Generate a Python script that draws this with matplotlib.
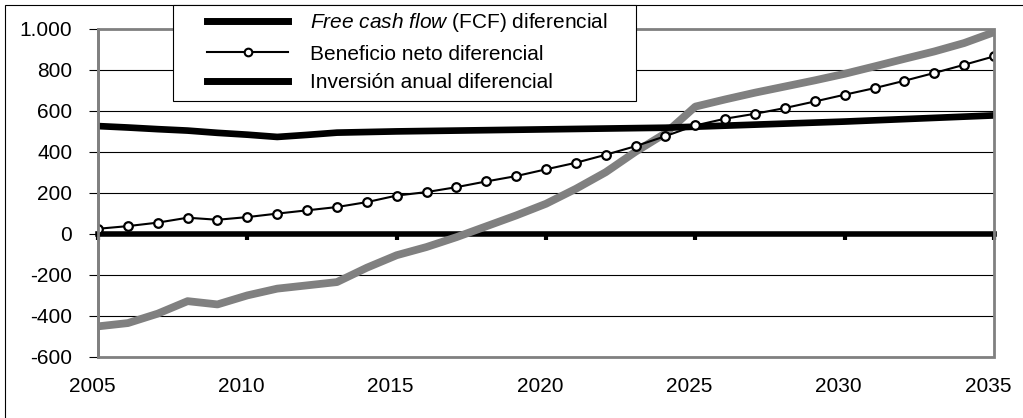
import matplotlib
matplotlib.use("Agg")
import matplotlib.pyplot as plt
import matplotlib.transforms as mtransforms
from matplotlib.lines import Line2D
from matplotlib.patches import Rectangle

# ---- data ----
years = list(range(2005, 2036))
fcf = [-452, -436, -390, -329, -345, -301, -268, -252, -236, -166, -105,
       -65, -17, 36, 89, 146, 219, 300, 400, 490, 620,
       655, 688, 718, 748, 780, 816, 853, 889, 930, 983]
beneficio = [24, 37, 54, 78, 68, 81, 98, 114, 130, 154, 186,
             203, 227, 255, 281, 314, 346, 385, 427, 476, 528,
             561, 585, 613, 645, 678, 710, 746, 784, 824, 865]
inversion = [525, 518, 510, 503, 492, 483, 472, 482, 493, 496, 499,
             501, 503, 505, 507, 509, 511, 513, 515, 517, 522,
             527, 532, 537, 542, 547, 553, 559, 565, 571, 577]
xticks = [2005, 2010, 2015, 2020, 2025, 2030, 2035]
yticks = [-600, -400, -200, 0, 200, 400, 600, 800, 1000]
ytick_labels = ["-600", "-400", "-200", "0", "200", "400", "600", "800", "1.000"]
labels = ["Free cash flow (FCF) diferencial", "Beneficio neto diferencial",
          "Inversión anual diferencial"]

plt.rcParams['font.family'] = ['Liberation Sans', 'DejaVu Sans']
plt.rcParams['mathtext.fontset'] = 'custom'
plt.rcParams['mathtext.rm'] = 'Liberation Sans'
plt.rcParams['mathtext.it'] = 'Liberation Sans:italic'
FS = 15
W, H = 1023, 418
fig = plt.figure(figsize=(W / 100, H / 100), dpi=100)
ax = fig.add_axes([98 / W, (H - 356.7) / H, (994 - 98) / W, (356.7 - 28.7) / H])

gray = "#808080"
ax.plot(years, fcf, color=gray, lw=5.6, solid_capstyle="butt", zorder=3)
ax.plot(years, inversion, color="black", lw=4.8, solid_capstyle="butt", zorder=3)
ax.plot(years, beneficio, color="black", lw=1.5, marker="o", ms=6.2,
        mfc="white", mec="black", mew=1.6, zorder=4)

ax.set_xlim(2005, 2035)
ax.set_ylim(-600, 1000)
ax.set_yticks(yticks)
ax.set_yticklabels(ytick_labels)
ax.set_xticks(xticks)
ax.set_xticklabels([str(x) for x in xticks])

ax.yaxis.grid(True, color="black", lw=0.8)
ax.set_axisbelow(True)

for s in ["top", "right"]:
    ax.spines[s].set_visible(False)
ax.spines["left"].set_color(gray)
ax.spines["left"].set_linewidth(2)
ax.spines["bottom"].set_position(("data", 0))
ax.spines["bottom"].set_color("black")
ax.spines["bottom"].set_linewidth(4)
ax.spines["bottom"].set_zorder(2.5)

ax.tick_params(axis="y", direction="out", length=6.5, width=0.8, color="black",
               labelsize=FS, pad=12)
ax.tick_params(axis="x", direction="out", length=4, width=3, color="black",
               labelsize=FS, pad=99)

shift = mtransforms.ScaledTranslation(-6 / 100, 0, fig.dpi_scale_trans)
for lbl in ax.get_xticklabels():
    lbl.set_transform(lbl.get_transform() + shift)

border = Rectangle((0, 0), 1, 1, transform=ax.transAxes, fill=False,
                   edgecolor=gray, lw=2, zorder=5, clip_on=False)
ax.add_patch(border)

# figure frame
fig.add_artist(Rectangle((5 / W, -0.2), 1.2, (H - 5) / H + 0.2,
                         transform=fig.transFigure, fill=False,
                         edgecolor="black", lw=0.8, clip_on=False))

# legend box
fig.add_artist(Rectangle((173 / W, 1 - 101 / H), (636 - 173) / W, 96 / H,
                         transform=fig.transFigure, facecolor="white",
                         edgecolor="black", lw=0.8, zorder=9))

handles = [Line2D([], [], color="black", lw=5),
           Line2D([], [], color="black", lw=1.5, marker="o", ms=5.5, mfc="white",
                  mec="black", mew=1.5),
           Line2D([], [], color="black", lw=5)]
leg_labels = [r"$\it{Free\ cash\ flow}$ (FCF) diferencial", labels[1], labels[2]]
leg = fig.legend(handles, leg_labels, loc="center left",
                 bbox_to_anchor=(207 / W, 1 - 52 / H),
                 fontsize=FS, frameon=False, handlelength=81 / 20.8,
                 handletextpad=22 / 20.8, labelspacing=0.48, borderpad=0,
                 borderaxespad=0, numpoints=1)
leg.set_zorder(10)

fig.savefig("out.png", dpi=100)
